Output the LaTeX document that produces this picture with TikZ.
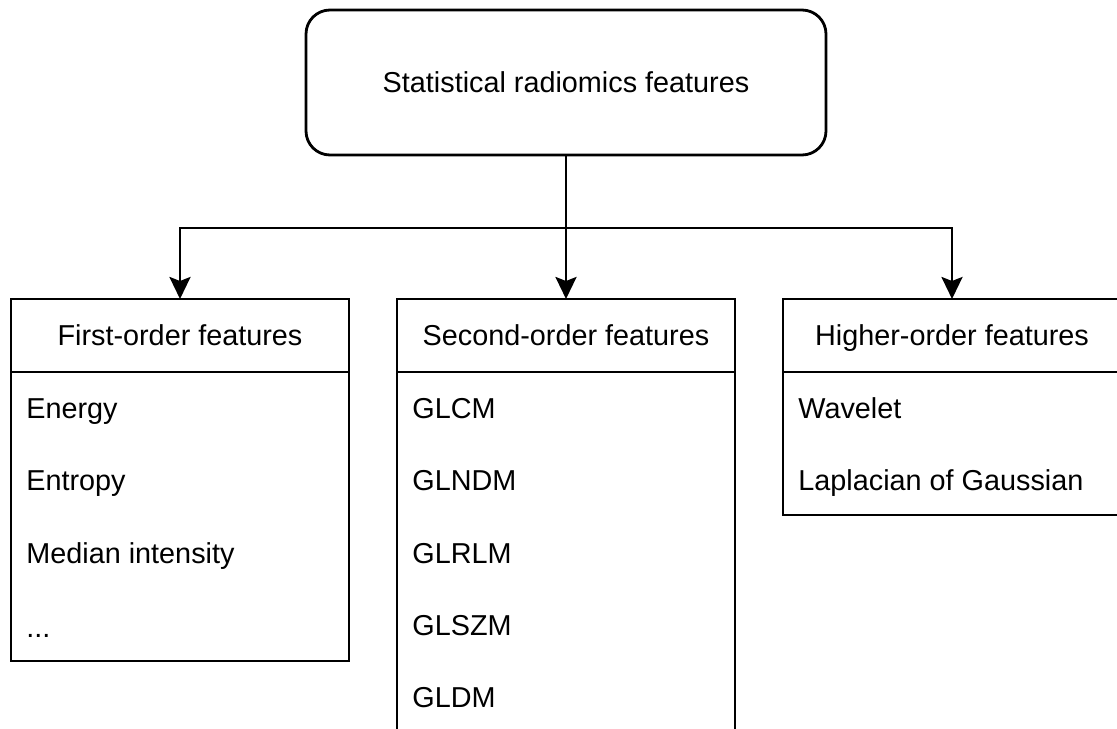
\documentclass[tikz,border=0pt]{standalone}
\usepackage{fontspec}
\setmainfont{Liberation Sans}
\usetikzlibrary{positioning,arrows.meta}

\begin{document}
\begin{tikzpicture}[x=0.5pt, y=-0.5pt, font=\fontsize{14.4}{17}\selectfont]
    \tikzset{
        topbox/.style={rectangle, rounded corners=12pt, draw=black, line width=1.4pt,
        minimum width=260pt, minimum height=72.5pt, text height=10.3pt, text depth=0pt, text centered},
        hdr/.style={rectangle, draw=black, line width=1.4pt, outer sep=0pt,
        minimum width=169pt, minimum height=36.5pt, inner sep=0pt,
        text height=10.3pt, text depth=0pt, text centered},
        bodybox/.style={rectangle, draw=black, line width=1.4pt, outer sep=0pt,
        minimum width=169pt, inner sep=0pt},
        item/.style={anchor=west, inner sep=0pt, text height=10.3pt, text depth=0pt},
        arrow/.style={line width=1.4pt, -{Stealth[length=11pt, width=10.5pt, inset=2pt]}}
    }
    \useasboundingbox (0,0) rectangle (1117,728);

    \node (stat) [topbox] at (566,82.5) {Statistical radiomics features};

    % three groups of features
    \node (first) [hdr] at (180,335.5) {First-order features};
    \node (firstbody) [bodybox, minimum height=144.5pt, below=0pt of first] {};
    \node (second) [hdr] at (566,335.5) {Second-order features};
    \node (secondbody) [bodybox, minimum height=180pt, below=0pt of second] {};
    \node (higher) [hdr] at (952,335.5) {Higher-order features};
    \node (higherbody) [bodybox, minimum height=71.5pt, below=0pt of higher] {};

    \node (energy) [item] at (26,408) {Energy};
    \node (entropy) [item] at (26,480) {Entropy};
    \node (median) [item] at (26,553) {Median intensity};
    \node (dots) [item] at (26,627) {...};

    \node (glcm) [item] at (412,408) {GLCM};
    \node (glndm) [item] at (412,480) {GLNDM};
    \node (glrlm) [item] at (412,553) {GLRLM};
    \node (glszm) [item] at (412,625) {GLSZM};
    \node (gldm) [item] at (412,697) {GLDM};

    \node (wavelet) [item] at (798,408) {Wavelet};
    \node (log) [item] at (798,480) {Laplacian of Gaussian};

    \coordinate (split) at (566,228);
    \draw [line width=1.4pt] (stat) -- (split);
    \draw [arrow] (split) -| (first);
    \draw [arrow] (split) -- (second);
    \draw [arrow] (split) -| (higher);
\end{tikzpicture}
\end{document}
